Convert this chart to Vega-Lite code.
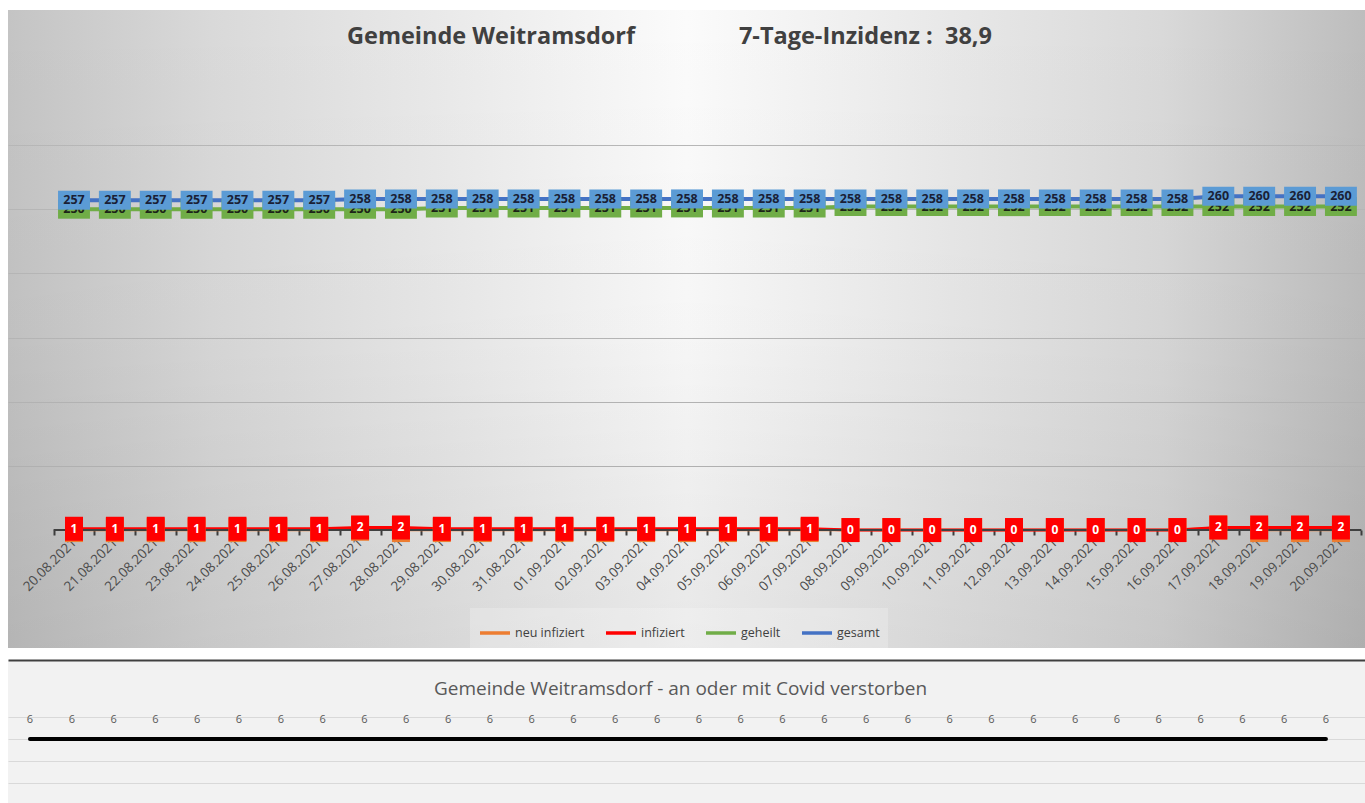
{
  "$schema": "https://vega.github.io/schema/vega-lite/v6.json",
  "background": "#ffffff",
  "padding": {"left": 3, "top": 10, "right": 0, "bottom": 0},
  "spacing": 12,
  "bounds": "flush",
  "data": {"values": [
    {"d": "20.08.2021", "neu": 0, "inf": 1, "geh": 250, "ges": 257, "tot": 6},
    {"d": "21.08.2021", "neu": 0, "inf": 1, "geh": 250, "ges": 257, "tot": 6},
    {"d": "22.08.2021", "neu": 0, "inf": 1, "geh": 250, "ges": 257, "tot": 6},
    {"d": "23.08.2021", "neu": 0, "inf": 1, "geh": 250, "ges": 257, "tot": 6},
    {"d": "24.08.2021", "neu": 0, "inf": 1, "geh": 250, "ges": 257, "tot": 6},
    {"d": "25.08.2021", "neu": 0, "inf": 1, "geh": 250, "ges": 257, "tot": 6},
    {"d": "26.08.2021", "neu": 0, "inf": 1, "geh": 250, "ges": 257, "tot": 6},
    {"d": "27.08.2021", "neu": 1, "inf": 2, "geh": 250, "ges": 258, "tot": 6},
    {"d": "28.08.2021", "neu": 0, "inf": 2, "geh": 250, "ges": 258, "tot": 6},
    {"d": "29.08.2021", "neu": 0, "inf": 1, "geh": 251, "ges": 258, "tot": 6},
    {"d": "30.08.2021", "neu": 0, "inf": 1, "geh": 251, "ges": 258, "tot": 6},
    {"d": "31.08.2021", "neu": 0, "inf": 1, "geh": 251, "ges": 258, "tot": 6},
    {"d": "01.09.2021", "neu": 0, "inf": 1, "geh": 251, "ges": 258, "tot": 6},
    {"d": "02.09.2021", "neu": 0, "inf": 1, "geh": 251, "ges": 258, "tot": 6},
    {"d": "03.09.2021", "neu": 0, "inf": 1, "geh": 251, "ges": 258, "tot": 6},
    {"d": "04.09.2021", "neu": 0, "inf": 1, "geh": 251, "ges": 258, "tot": 6},
    {"d": "05.09.2021", "neu": 0, "inf": 1, "geh": 251, "ges": 258, "tot": 6},
    {"d": "06.09.2021", "neu": 0, "inf": 1, "geh": 251, "ges": 258, "tot": 6},
    {"d": "07.09.2021", "neu": 0, "inf": 1, "geh": 251, "ges": 258, "tot": 6},
    {"d": "08.09.2021", "neu": 0, "inf": 0, "geh": 252, "ges": 258, "tot": 6},
    {"d": "09.09.2021", "neu": 0, "inf": 0, "geh": 252, "ges": 258, "tot": 6},
    {"d": "10.09.2021", "neu": 0, "inf": 0, "geh": 252, "ges": 258, "tot": 6},
    {"d": "11.09.2021", "neu": 0, "inf": 0, "geh": 252, "ges": 258, "tot": 6},
    {"d": "12.09.2021", "neu": 0, "inf": 0, "geh": 252, "ges": 258, "tot": 6},
    {"d": "13.09.2021", "neu": 0, "inf": 0, "geh": 252, "ges": 258, "tot": 6},
    {"d": "14.09.2021", "neu": 0, "inf": 0, "geh": 252, "ges": 258, "tot": 6},
    {"d": "15.09.2021", "neu": 0, "inf": 0, "geh": 252, "ges": 258, "tot": 6},
    {"d": "16.09.2021", "neu": 0, "inf": 0, "geh": 252, "ges": 258, "tot": 6},
    {"d": "17.09.2021", "neu": 2, "inf": 2, "geh": 252, "ges": 260, "tot": 6},
    {"d": "18.09.2021", "neu": 0, "inf": 2, "geh": 252, "ges": 260, "tot": 6},
    {"d": "19.09.2021", "neu": 0, "inf": 2, "geh": 252, "ges": 260, "tot": 6},
    {"d": "20.09.2021", "neu": 0, "inf": 2, "geh": 252, "ges": 260, "tot": 6}
  ]},
  "config": {
    "view": {"stroke": null},
    "font": "Open Sans",
    "legend": {
      "direction": "horizontal",
      "symbolType": "stroke",
      "symbolSize": 900,
      "symbolStrokeWidth": 3.5,
      "labelFont": "Open Sans",
      "labelFontSize": 12.5,
      "labelColor": "#404040",
      "labelOffset": 3,
      "columnPadding": 14,
      "padding": 8,
      "fillColor": "rgba(255,255,255,0.22)",
      "title": null
    }
  },
  "vconcat": [
    {
      "width": 1357,
      "height": 638,
      "view": {
        "stroke": null,
        "fill": {"gradient": "linear", "x1": 0, "x2": 1, "y1": 0, "y2": 0, "stops": [
          {"offset": 0, "color": "#c4c4c4"},
          {"offset": 0.15, "color": "#d9d9d9"},
          {"offset": 0.5, "color": "#fbfbfb"},
          {"offset": 0.85, "color": "#d9d9d9"},
          {"offset": 1, "color": "#bdbdbd"}
        ]}
      },
      "title": {
        "text": "Gemeinde Weitramsdorf\u00a0\u00a0\u00a0\u00a0\u00a0\u00a0\u00a0\u00a0\u00a0\u00a0\u00a0\u00a0\u00a0\u00a0\u00a0\u00a0\u00a07-Tage-Inzidenz :\u00a0\u00a038,9",
        "anchor": "start",
        "frame": "group",
        "dx": 339,
        "offset": -57,
        "baseline": "alphabetic",
        "font": "Open Sans",
        "fontSize": 23.5,
        "fontWeight": "bold",
        "color": "#404040"
      },
      "layer": [
        {
          "data": {"values": [{}]},
          "mark": {"type": "rect", "fill": {"gradient": "linear", "x1": 0, "x2": 0, "y1": 0, "y2": 1, "stops": [
            {"offset": 0, "color": "rgba(0,0,0,0)"},
            {"offset": 0.5, "color": "rgba(0,0,0,0.02)"},
            {"offset": 1, "color": "rgba(0,0,0,0.08)"}
          ]}},
          "encoding": {}
        },
        {
          "mark": {"type": "line", "strokeWidth": 2.5},
          "encoding": {
            "x": {"field": "d", "type": "ordinal", "title": null,
              "scale": {"type": "band", "domain": ["20.08.2021","21.08.2021","22.08.2021","23.08.2021","24.08.2021","25.08.2021","26.08.2021","27.08.2021","28.08.2021","29.08.2021","30.08.2021","31.08.2021","01.09.2021","02.09.2021","03.09.2021","04.09.2021","05.09.2021","06.09.2021","07.09.2021","08.09.2021","09.09.2021","10.09.2021","11.09.2021","12.09.2021","13.09.2021","14.09.2021","15.09.2021","16.09.2021","17.09.2021","18.09.2021","19.09.2021","20.09.2021"], "paddingInner": 0, "paddingOuter": 0.602, "align": 0.926},
              "axis": {"orient": "bottom", "offset": -118, "domain": false, "grid": false, "tickBand": "extent", "ticks": true, "tickSize": 5, "tickWidth": 2, "tickColor": "#404040", "labelAngle": -45, "labelAlign": "right", "labelBaseline": "middle", "labelPadding": 5, "labelFont": "Open Sans", "labelFontSize": 13.5, "labelColor": "#505050", "labelOverlap": false, "title": null}},
            "y": {"field": "neu", "type": "quantitative", "title": null,
              "scale": {"domain": [-91.9, 405.2], "nice": false, "zero": false},
              "axis": {"grid": true, "values": [50, 100, 150, 200, 250, 300], "labels": false, "ticks": false, "tickSize": 0, "labelPadding": 0, "minExtent": 0, "maxExtent": 0, "domain": false, "gridColor": "#b8b8b8", "gridWidth": 1, "title": null}},
            "color": {"datum": "neu infiziert",
              "scale": {"domain": ["neu infiziert", "infiziert", "geheilt", "gesamt"], "range": ["#ED7D31", "#FF0000", "#70AD47", "#4472C4"]},
              "legend": {"orient": "none", "legendX": 462, "legendY": 598}}
          }
        },
        {
          "mark": {"type": "line", "strokeWidth": 3},
          "encoding": {
            "x": {"field": "d", "type": "ordinal", "title": null},
            "y": {"field": "inf", "type": "quantitative", "title": null},
            "color": {"datum": "infiziert"}
          }
        },
        {
          "mark": {"type": "line", "strokeWidth": 4},
          "encoding": {
            "x": {"field": "d", "type": "ordinal", "title": null},
            "y": {"field": "geh", "type": "quantitative", "title": null},
            "color": {"datum": "geheilt"}
          }
        },
        {
          "mark": {"type": "line", "strokeWidth": 4},
          "encoding": {
            "x": {"field": "d", "type": "ordinal", "title": null},
            "y": {"field": "ges", "type": "quantitative", "title": null},
            "color": {"datum": "gesamt"}
          }
        },
        {
          "data": {"values": [{}]},
          "mark": {"type": "rule", "color": "#404040", "strokeWidth": 2},
          "encoding": {
            "x": {"datum": "20.08.2021", "type": "ordinal", "bandPosition": 0},
            "x2": {"datum": "20.09.2021", "bandPosition": 1},
            "y": {"datum": 0, "type": "quantitative"}
          }
        },
        {
          "mark": {"type": "point", "shape": "M-0.75,-1H0.75V1H-0.75Z", "filled": true, "fill": "#ED7D31", "opacity": 1, "size": 576, "strokeWidth": 0},
          "encoding": {
            "x": {"field": "d", "type": "ordinal", "title": null},
            "y": {"field": "neu", "type": "quantitative", "title": null}
          }
        },
        {
          "mark": {"type": "text", "font": "Open Sans", "fontWeight": "bold", "fontSize": 12, "fill": "#ffffff", "baseline": "middle", "align": "center"},
          "encoding": {
            "x": {"field": "d", "type": "ordinal", "title": null},
            "y": {"field": "neu", "type": "quantitative", "title": null},
            "text": {"field": "neu", "type": "quantitative"}
          }
        },
        {
          "mark": {"type": "point", "shape": "M-0.75,-1H0.75V1H-0.75Z", "filled": true, "fill": "#FF0000", "opacity": 1, "size": 576, "strokeWidth": 0},
          "encoding": {
            "x": {"field": "d", "type": "ordinal", "title": null},
            "y": {"field": "inf", "type": "quantitative", "title": null}
          }
        },
        {
          "mark": {"type": "text", "font": "Open Sans", "fontWeight": "bold", "fontSize": 12, "fill": "#ffffff", "baseline": "middle", "align": "center"},
          "encoding": {
            "x": {"field": "d", "type": "ordinal", "title": null},
            "y": {"field": "inf", "type": "quantitative", "title": null},
            "text": {"field": "inf", "type": "quantitative"}
          }
        },
        {
          "mark": {"type": "point", "shape": "M-1.68,-1H1.68V1H-1.68Z", "filled": true, "fill": "#70AD47", "opacity": 1, "size": 361, "strokeWidth": 0},
          "encoding": {
            "x": {"field": "d", "type": "ordinal", "title": null},
            "y": {"field": "geh", "type": "quantitative", "title": null}
          }
        },
        {
          "mark": {"type": "text", "font": "Open Sans", "fontWeight": "bold", "fontSize": 12.5, "fill": "#1c2418", "baseline": "middle", "align": "center"},
          "encoding": {
            "x": {"field": "d", "type": "ordinal", "title": null},
            "y": {"field": "geh", "type": "quantitative", "title": null},
            "text": {"field": "geh", "type": "quantitative"}
          }
        },
        {
          "mark": {"type": "point", "shape": "M-1.68,-1H1.68V1H-1.68Z", "filled": true, "fill": "#5B9BD5", "opacity": 1, "size": 361, "strokeWidth": 0},
          "encoding": {
            "x": {"field": "d", "type": "ordinal", "title": null},
            "y": {"field": "ges", "type": "quantitative", "title": null}
          }
        },
        {
          "mark": {"type": "text", "font": "Open Sans", "fontWeight": "bold", "fontSize": 12.5, "fill": "#1a1f36", "baseline": "middle", "align": "center"},
          "encoding": {
            "x": {"field": "d", "type": "ordinal", "title": null},
            "y": {"field": "ges", "type": "quantitative", "title": null},
            "text": {"field": "ges", "type": "quantitative"}
          }
        }
      ]
    },
    {
      "width": 1357,
      "height": 143,
      "view": {"fill": "#f2f2f2", "stroke": null},
      "title": {
        "text": "Gemeinde Weitramsdorf - an oder mit Covid verstorben",
        "anchor": "middle",
        "frame": "group",
        "dx": -6,
        "offset": -54,
        "baseline": "alphabetic",
        "font": "Open Sans",
        "fontSize": 19,
        "fontWeight": "normal",
        "color": "#595959"
      },
      "encoding": {
        "x": {"field": "d", "type": "ordinal", "sort": null, "title": null,
          "scale": {"type": "point", "padding": 0.7297, "align": 0.36},
          "axis": {"orient": "top", "labels": false, "ticks": false, "grid": false, "domain": true, "domainColor": "#404040", "domainWidth": 2, "title": null}},
        "y": {"field": "tot", "type": "quantitative", "title": null,
          "scale": {"domain": [0.18, 13.18], "nice": false, "zero": false},
          "axis": {"grid": true, "values": [2, 4, 6, 8], "labels": false, "ticks": false, "tickSize": 0, "labelPadding": 0, "minExtent": 0, "maxExtent": 0, "domain": false, "gridColor": "#d9d9d9", "gridWidth": 1, "title": null}}
      },
      "layer": [
        {"mark": {"type": "line", "color": "#000000", "strokeWidth": 4, "strokeCap": "round"}},
        {"mark": {"type": "text", "dy": -19, "font": "Open Sans", "fontSize": 11, "color": "#595959"},
          "encoding": {"text": {"field": "tot", "type": "quantitative"}}}
      ]
    }
  ]
}
